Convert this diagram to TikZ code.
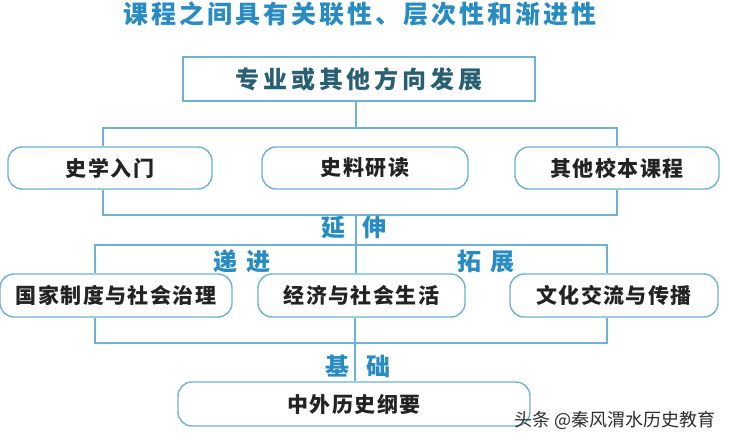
\documentclass[tikz,border=0pt]{standalone}
\usepackage{fontspec}
\setmainfont{Noto Sans CJK SC}
\newfontfamily\titlefont[LetterSpace=12]{Noto Sans CJK SC}
\newfontfamily\topfont[LetterSpace=16]{Noto Sans CJK SC}
\newfontfamily\rowfont[LetterSpace=7]{Noto Sans CJK SC}
\newfontfamily\markfont{Noto Sans CJK SC}
\definecolor{titleblue}{RGB}{40,140,195}
\definecolor{lineblue}{RGB}{110,178,212}
\definecolor{topteal}{RGB}{40,95,115}
\definecolor{textdark}{RGB}{35,35,35}
\definecolor{markgray}{RGB}{45,45,45}

\begin{document}
\begin{tikzpicture}[x=1pt,y=-1pt]

      \tikzset{link/.style={draw=lineblue, line width=1.4pt},
               rectbox/.style={draw=lineblue, line width=1.4pt, inner sep=0pt, minimum height=44pt},
               pillbox/.style={rectbox, rounded corners=14pt, minimum height=42pt, text=textdark,
                               font=\rowfont\fontsize{21}{21}\selectfont\bfseries},
               joinlabel/.style={inner sep=0pt, text=titleblue, font=\markfont\fontsize{24}{24}\selectfont\bfseries}}
      \useasboundingbox (0,0) rectangle (732,442);
% Title
      	\node[font=\titlefont\fontsize{25}{25}\selectfont\bfseries, text=titleblue] (title) at (360,14) {课程之间具有关联性、层次性和渐进性};
% Boxes
      	\node[rectbox, minimum width=352pt, text=topteal, font=\topfont\fontsize{24}{24}\selectfont\bfseries] (fz) at (359,79) {专业或其他方向发展};
      	\node[pillbox, minimum width=204pt] (sx) at (110,168) {史学入门};
      	\node[pillbox, minimum width=206pt] (sl) at (365,168) {史料研读};
      	\node[pillbox, minimum width=204pt] (qt) at (617,168) {其他校本课程};
      	\node[pillbox, minimum width=232pt, minimum height=43pt] (gj) at (116,295.5) {国家制度与社会治理};
      	\node[pillbox, minimum width=207pt, minimum height=43pt] (jj) at (361.5,295.5) {经济与社会生活};
      	\node[pillbox, minimum width=208pt, minimum height=43pt] (wh) at (614,295.5) {文化交流与传播};
      	\node[pillbox, minimum width=352pt, minimum height=44pt] (gy) at (354,404) {中外历史纲要};
% Junctions
      	\coordinate (u1l) at (103,128); \coordinate (u1r) at (617,128);
      	\coordinate (d1l) at (103,215); \coordinate (d1r) at (617,215);
      	\coordinate (u2l) at (95,245);  \coordinate (u2r) at (607,245);
      	\coordinate (d2l) at (95,343);  \coordinate (d2r) at (607,343);
      	\coordinate (c1) at (356,215);  \coordinate (c2) at (355,343);
% Lines
		\draw[link] (fz.south -| c1) -- (c1 |- u1l);
		\draw[link] (u1l |- sx.north) -- (u1l) -- (u1r) -- (u1r |- qt.north);
		\draw[link] (d1l |- sx.south) -- (d1l) -- (d1r) -- (d1r |- qt.south);
		\draw[link] (c1) -- (c1 |- jj.north);
		\draw[link] (u2l |- gj.north) -- (u2l) -- (u2r) -- (u2r |- wh.north);
		\draw[link] (d2l |- gj.south) -- (d2l) -- (d2r) -- (d2r |- wh.south);
		\draw[link] (c2 |- jj.south) -- (c2 |- gy.north);
% Labels
		\node[joinlabel, anchor=east] (yan) at (346,227) {延};
		\node[joinlabel, anchor=west] (shen) at (362,227) {伸};
		\node[joinlabel] (dj) at (242,261) {递\hspace{10pt}进};
		\node[joinlabel] (tz) at (486,261) {拓\hspace{10pt}展};
		\node[joinlabel, anchor=east] (ji) at (350,366) {基};
		\node[joinlabel, anchor=west] (chu) at (366,366) {础};
% Watermark
		\node[anchor=west, inner sep=0pt, text=markgray, font=\markfont\fontsize{18}{18}\selectfont] (wm) at (514,420) {头条 @秦风渭水历史教育};

	\end{tikzpicture}
\end{document}
